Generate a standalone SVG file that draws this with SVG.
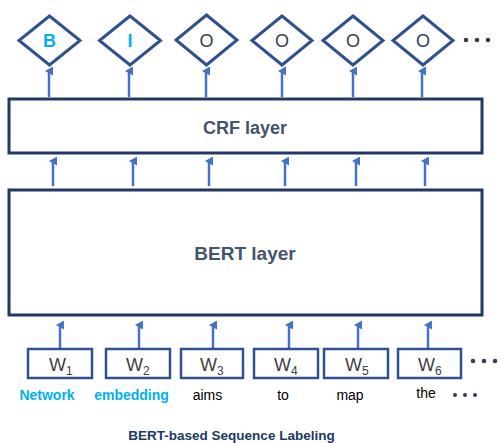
<svg xmlns="http://www.w3.org/2000/svg" width="500" height="443" viewBox="0 0 500 443">
<defs>
<marker id="ah" markerWidth="9" markerHeight="9" refX="4.5" refY="4" orient="auto" markerUnits="userSpaceOnUse" viewBox="0 0 9 9">
<path d="M0,8 L4.5,0 L9,8 Z" fill="#4472C4"/>
</marker>
<style>
.dia{fill:#fff;stroke:#2F528F;stroke-width:3}
.box{fill:#fff;stroke:#203864;stroke-width:3}
.wbox{fill:#fff;stroke:#2F528F;stroke-width:2.5}
.arr{stroke:#4472C4;stroke-width:2.5;fill:none}
.lbl{font-family:"Liberation Sans",Arial,sans-serif;font-size:18px;text-anchor:middle}
.blue{fill:#00B0F0;font-weight:bold}
.dark{fill:#333F50}
.layer{font-family:"Liberation Sans",Arial,sans-serif;font-weight:bold;fill:#44546A;text-anchor:middle}
.w{font-family:"Liberation Sans",Arial,sans-serif;font-size:18px;fill:#404040}
.word{font-family:"Liberation Sans",Arial,sans-serif;font-size:14px;text-anchor:middle;fill:#000}
.wblue{fill:#00B0F0;font-weight:bold}
.dot{fill:#333F50}
</style>
</defs>
<g id="connectors">
<line class="arr" x1="49" y1="97" x2="49" y2="71" marker-end="url(#ah)"/>
<line class="arr" x1="129" y1="97" x2="129" y2="71" marker-end="url(#ah)"/>
<line class="arr" x1="206" y1="97" x2="206" y2="71" marker-end="url(#ah)"/>
<line class="arr" x1="282" y1="97" x2="282" y2="71" marker-end="url(#ah)"/>
<line class="arr" x1="353" y1="97" x2="353" y2="71" marker-end="url(#ah)"/>
<line class="arr" x1="422" y1="97" x2="422" y2="71" marker-end="url(#ah)"/>
<line class="arr" x1="53" y1="186" x2="53" y2="161" marker-end="url(#ah)"/>
<line class="arr" x1="133" y1="186" x2="133" y2="161" marker-end="url(#ah)"/>
<line class="arr" x1="209" y1="186" x2="209" y2="161" marker-end="url(#ah)"/>
<line class="arr" x1="285" y1="186" x2="285" y2="161" marker-end="url(#ah)"/>
<line class="arr" x1="356" y1="186" x2="356" y2="161" marker-end="url(#ah)"/>
<line class="arr" x1="425" y1="186" x2="425" y2="161" marker-end="url(#ah)"/>
<line class="arr" x1="60" y1="348" x2="60" y2="325" marker-end="url(#ah)"/>
<line class="arr" x1="139" y1="348" x2="139" y2="325" marker-end="url(#ah)"/>
<line class="arr" x1="213" y1="348" x2="213" y2="325" marker-end="url(#ah)"/>
<line class="arr" x1="289" y1="348" x2="289" y2="325" marker-end="url(#ah)"/>
<line class="arr" x1="358" y1="348" x2="358" y2="325" marker-end="url(#ah)"/>
<line class="arr" x1="428" y1="348" x2="428" y2="325" marker-end="url(#ah)"/>
</g>
<g id="tag1"><polygon class="dia" points="49.5,16 80,40.5 49.5,65 19,40.5"/><text class="lbl blue" x="49.5" y="47">B</text></g>
<g id="tag2"><polygon class="dia" points="130,16 160.5,40.5 130,65 99.5,40.5"/><text class="lbl blue" x="130" y="47">I</text></g>
<g id="tag3"><polygon class="dia" points="206.5,15 237,40 206.5,65 176,40"/><text class="lbl dark" x="206.5" y="47">O</text></g>
<g id="tag4"><polygon class="dia" points="282,16 312,40.5 282,65 252,40.5"/><text class="lbl dark" x="282" y="47">O</text></g>
<g id="tag5"><polygon class="dia" points="353,16 383,40.5 353,65 323,40.5"/><text class="lbl dark" x="353" y="47">O</text></g>
<g id="tag6"><polygon class="dia" points="423,16 453,40.5 423,65 393,40.5"/><text class="lbl dark" x="423" y="47">O</text></g>
<g id="tagdots"><circle class="dot" cx="466" cy="40" r="2.3"/><circle class="dot" cx="477" cy="40" r="2.3"/><circle class="dot" cx="488" cy="40" r="2.3"/></g>
<g id="crf"><rect class="box" x="9" y="99" width="473" height="54"/><text class="layer" x="245" y="134" font-size="18">CRF layer</text></g>
<g id="bert"><rect class="box" x="9" y="190" width="473" height="125"/><text class="layer" x="245" y="260" font-size="19">BERT layer</text></g>
<g id="w1"><rect class="wbox" x="28" y="349" width="64" height="29"/><text class="w" x="49" y="371">W<tspan font-size="12" dy="4">1</tspan></text></g>
<g id="w2"><rect class="wbox" x="106" y="349" width="64" height="29"/><text class="w" x="126" y="371">W<tspan font-size="12" dy="4">2</tspan></text></g>
<g id="w3"><rect class="wbox" x="181" y="349" width="62" height="29"/><text class="w" x="200" y="371">W<tspan font-size="12" dy="4">3</tspan></text></g>
<g id="w4"><rect class="wbox" x="254" y="349" width="64" height="29"/><text class="w" x="274" y="371">W<tspan font-size="12" dy="4">4</tspan></text></g>
<g id="w5"><rect class="wbox" x="324" y="349" width="64" height="29"/><text class="w" x="345" y="371">W<tspan font-size="12" dy="4">5</tspan></text></g>
<g id="w6"><rect class="wbox" x="398" y="349" width="63" height="29"/><text class="w" x="418" y="371">W<tspan font-size="12" dy="4">6</tspan></text></g>
<g id="wdots"><circle class="dot" cx="473" cy="361" r="2.3"/><circle class="dot" cx="484" cy="361" r="2.3"/><circle class="dot" cx="495" cy="361" r="2.3"/></g>
<g id="words">
<text class="word wblue" x="47" y="400">Network</text>
<text class="word wblue" x="131.5" y="400">embedding</text>
<text class="word" x="207.5" y="400">aims</text>
<text class="word" x="283" y="400">to</text>
<text class="word" x="350" y="400">map</text>
<text class="word" x="426" y="398">the</text>
<circle class="dot" cx="455" cy="395" r="2"/><circle class="dot" cx="465" cy="395" r="2"/><circle class="dot" cx="475" cy="395" r="2"/>
</g>
<text id="title" x="231.5" y="440" font-family="'Liberation Sans',Arial,sans-serif" font-size="13.5" font-weight="bold" fill="#203864" text-anchor="middle">BERT-based Sequence Labeling</text>
</svg>
